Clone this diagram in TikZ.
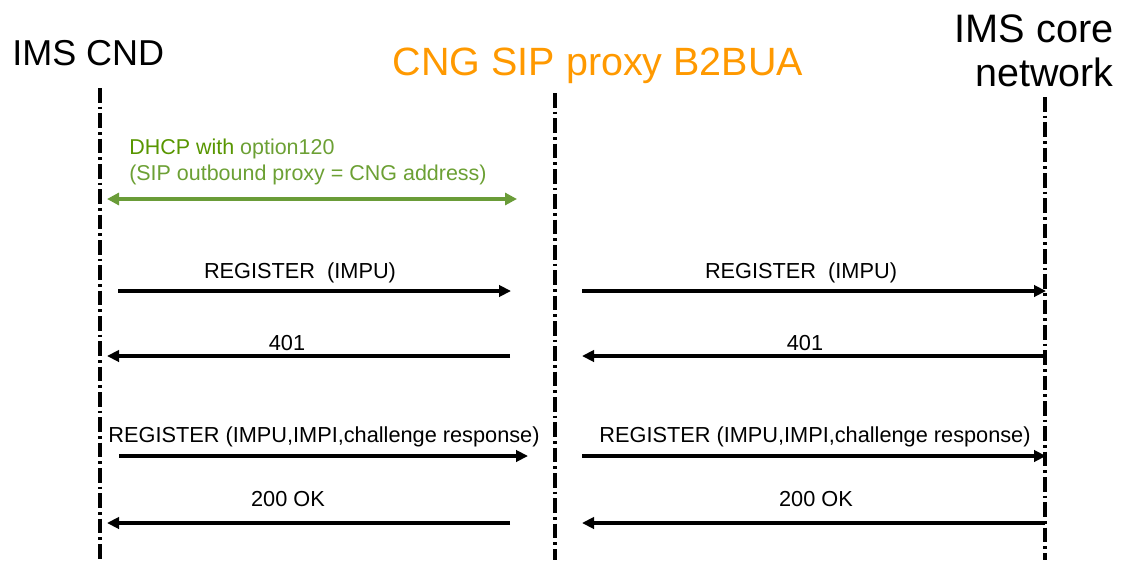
\documentclass[tikz,border=0pt]{standalone}
\usepackage{fontspec}
\setmainfont{Liberation Sans}
\usetikzlibrary{arrows.meta}
\definecolor{cngorange}{RGB}{255,153,0}
\definecolor{dhcpdark}{RGB}{88,150,0}
\definecolor{dhcplight}{RGB}{108,160,52}
\definecolor{dhcpline}{RGB}{106,156,56}
\begin{document}
\begin{tikzpicture}[x=0.75pt,y=-0.75pt,
  title/.style={inner sep=0pt},
  lbl/.style={inner sep=0pt,anchor=base,font=\fontsize{16.3}{19}\selectfont},
  lifeline/.style={line width=2.4pt,dash pattern=on 11pt off 3pt on 2pt off 3pt},
  msg/.style={line width=2.6pt,-{Triangle[length=9pt,width=8.5pt]}},
  dhcparrow/.style={dhcpline,line width=2.8pt,{Triangle[length=9pt,width=9pt]}-{Triangle[length=9pt,width=9pt]}}]
\useasboundingbox (0,0) rectangle (1121,564);

% entity headings
\node[title,anchor=base west,font=\fontsize{27}{32}\selectfont] (cnd) at (12,65) {IMS CND};
\node[title,anchor=base,text=cngorange,font=\fontsize{29.6}{32}\selectfont] (cng) at (598,75) {CNG SIP proxy B2BUA};
\node[title,anchor=base east,font=\fontsize{29.8}{32}\selectfont] (core1) at (1114,42) {IMS core};
\node[title,anchor=base east,font=\fontsize{29.6}{32}\selectfont] (core2) at (1114,86) {network};

% lifelines
\coordinate (ueTop) at (100,88);   \coordinate (ueBot) at (100,560);
\coordinate (cngTop) at (555,93);  \coordinate (cngBot) at (555,560);
\coordinate (imsTop) at (1045,97); \coordinate (imsBot) at (1045,560);
\draw[lifeline] (ueTop) -- (ueBot);
\draw[lifeline] (cngTop) -- (cngBot);
\draw[lifeline] (imsTop) -- (imsBot);

% DHCP exchange
\node[lbl,anchor=base west,font=\fontsize{16.1}{19}\selectfont] (dhcp1) at (129,154)
  {\textcolor{dhcpdark}{DHCP with} \textcolor{dhcplight}{option120}};
\node[lbl,anchor=base west,text=dhcplight,font=\fontsize{16.1}{19}\selectfont] (dhcp2) at (129,180)
  {(SIP outbound proxy = CNG address)};
\coordinate (dA) at (107,199); \coordinate (dB) at (517,199);
\draw[dhcparrow] (dA) -- (dB);

% REGISTER (IMPU)
\node[lbl] (r1l) at (300,278) {REGISTER~ (IMPU)};
\node[lbl] (r1r) at (801,278) {REGISTER~ (IMPU)};
\coordinate (a1s) at (118,291); \coordinate (a1e) at (511,291);
\coordinate (b1s) at (582,291); \coordinate (b1e) at (1046,291);
\draw[msg] (a1s) -- (a1e);
\draw[msg] (b1s) -- (b1e);

% 401
\node[lbl] (r2l) at (287,350) {401};
\node[lbl] (r2r) at (805,350) {401};
\coordinate (a2s) at (510,356); \coordinate (a2e) at (107,356);
\coordinate (b2s) at (1045,356); \coordinate (b2e) at (582,356);
\draw[msg] (a2s) -- (a2e);
\draw[msg] (b2s) -- (b2e);

% REGISTER with credentials
\node[lbl] (r3l) at (324,442) {REGISTER (IMPU,IMPI,challenge response)};
\node[lbl] (r3r) at (815,442) {REGISTER (IMPU,IMPI,challenge response)};
\coordinate (a3s) at (119,456); \coordinate (a3e) at (528,456);
\coordinate (b3s) at (582,456); \coordinate (b3e) at (1046,456);
\draw[msg] (a3s) -- (a3e);
\draw[msg] (b3s) -- (b3e);

% 200 OK
\node[lbl] (r4l) at (288,506) {200 OK};
\node[lbl] (r4r) at (816,506) {200 OK};
\coordinate (a4s) at (510,523); \coordinate (a4e) at (107,523);
\coordinate (b4s) at (1045,523); \coordinate (b4e) at (582,523);
\draw[msg] (a4s) -- (a4e);
\draw[msg] (b4s) -- (b4e);
\end{tikzpicture}
\end{document}
